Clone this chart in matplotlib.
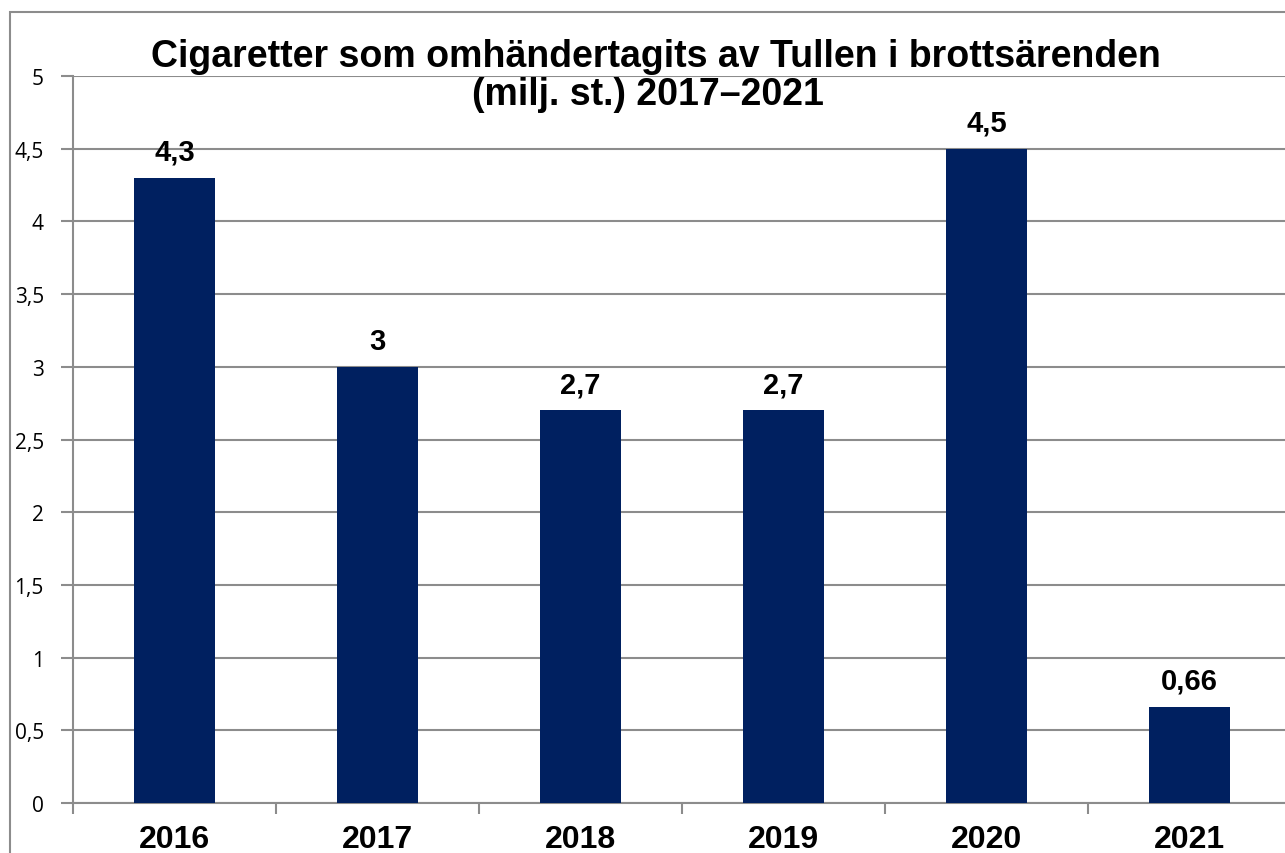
import numpy as np
import matplotlib
matplotlib.use("Agg")
import matplotlib.pyplot as plt
from matplotlib.patches import Rectangle

years = ["2016", "2017", "2018", "2019", "2020", "2021"]
values = [4.3, 3.0, 2.7, 2.7, 4.5, 0.66]
labels = ["4,3", "3", "2,7", "2,7", "4,5", "0,66"]
yticks = [0, 0.5, 1, 1.5, 2, 2.5, 3, 3.5, 4, 4.5, 5]
ytick_labels = ["0", "0,5", "1", "1,5", "2", "2,5", "3", "3,5", "4", "4,5", "5"]

fig = plt.figure(figsize=(12.85, 8.54), dpi=100)
ax = fig.add_axes([73 / 1285, 1 - 804 / 854, 1218 / 1285, 727 / 854])

x = np.arange(len(years))
ax.bar(x, values, width=0.4, color="#002060", zorder=3)

for xi, v, lab in zip(x, values, labels):
    ax.annotate(lab, (xi, v), xytext=(0, 13), textcoords="offset points",
                ha="center", va="baseline", fontsize=21, fontweight="bold",
                family="Liberation Sans")

ax.set_xlim(-0.5, 5.5)
ax.set_ylim(0, 5)
ax.set_yticks(yticks)
ax.set_yticklabels(ytick_labels, family="Open Sans", fontsize=15)
ax.yaxis.grid(True, color="#8c8c8c", linewidth=1.5, zorder=0)

ax.set_xticks(np.arange(-0.5, 6, 1))
ax.set_xticklabels([])
ax.set_xticks(x, minor=True)
ax.set_xticklabels(years, minor=True, fontsize=23, fontweight="bold",
                   family="Liberation Sans")
ax.tick_params(axis="x", which="minor", length=0, pad=15)
ax.tick_params(axis="x", which="major", length=8, width=1.5, color="#8c8c8c")
ax.tick_params(axis="y", length=9, width=1.5, color="#8c8c8c", pad=12)

for s in ["top", "right"]:
    ax.spines[s].set_visible(False)
for s in ["left", "bottom"]:
    ax.spines[s].set_color("#8c8c8c")
    ax.spines[s].set_linewidth(1.5)

fig.text(656 / 1285, 1 - 67 / 854,
         "Cigaretter som omhändertagits av Tullen i brottsärenden",
         ha="center", va="baseline", fontsize=27, fontweight="bold",
         family="Liberation Sans")
fig.text(648 / 1285, 1 - 105 / 854, "(milj. st.) 2017\u20132021",
         ha="center", va="baseline", fontsize=27, fontweight="bold",
         family="Liberation Sans")

fig.patches.append(Rectangle((10 / 1285, -0.1), 1.2, 1 - 13 / 854 + 0.1,
                             transform=fig.transFigure, fill=False,
                             edgecolor="#8c8c8c", linewidth=1.5))

fig.savefig("out.png", dpi=100)
